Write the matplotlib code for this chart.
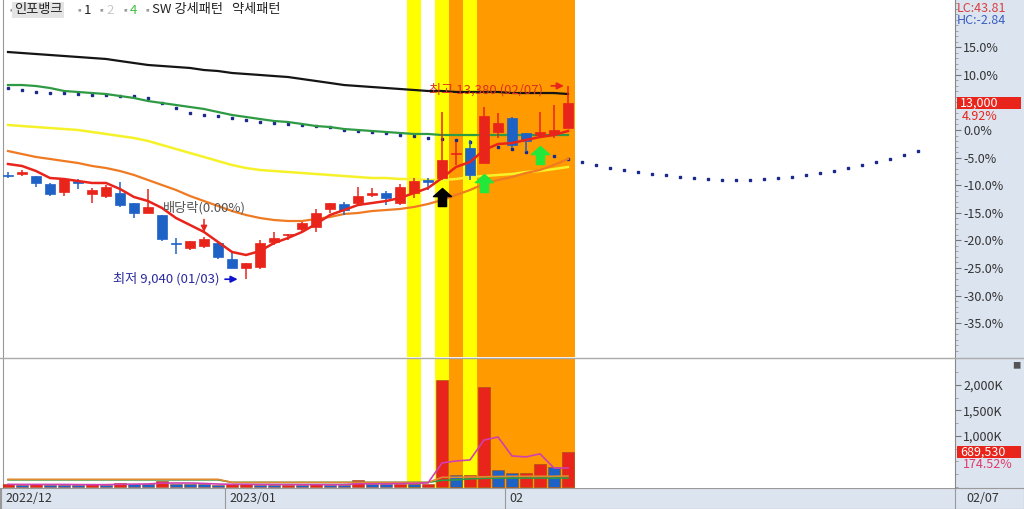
import matplotlib
matplotlib.use('Agg')
import matplotlib.pyplot as plt
from matplotlib.patches import Rectangle
from matplotlib.path import Path
import numpy as np

plt.rcParams['font.family'] = ['Noto Sans CJK KR', 'DejaVu Sans']

# ---------------- data ----------------
base_close = 12390  # previous close = 0.0% reference
dates = ['12/08', '12/09', '12/12', '12/13', '12/14', '12/15', '12/16', '12/19', '12/20', '12/21',
         '12/22', '12/23', '12/26', '12/27', '12/28', '12/29', '01/02', '01/03', '01/04', '01/05',
         '01/06', '01/09', '01/10', '01/11', '01/12', '01/13', '01/16', '01/17', '01/18', '01/19',
         '01/20', '01/25', '01/26', '01/27', '01/30', '01/31', '02/01', '02/02', '02/03', '02/06',
         '02/07']
opens = [11390, 11400, 11360, 11180, 11000, 11240, 10950, 10910, 10980, 10750,
         10530, 10480, 9860, 9740, 9790, 9850, 9490, 9290, 9320, 9880,
         10030, 10170, 10210, 10620, 10730, 10750, 10930, 10980, 10750, 10980,
         11270, 11310, 11850, 11990, 11650, 12350, 12660, 12320, 12280, 12300,
         12430]
highs = [11450, 11490, 11360, 11200, 11310, 11290, 11090, 11160, 11220, 10750,
         11070, 10480, 9970, 9900, 9990, 9850, 9650, 9400, 9920, 10100,
         10060, 10320, 10620, 10750, 10770, 11110, 11090, 11020, 11180, 11310,
         11310, 12790, 12120, 12170, 12910, 12770, 12680, 12320, 12790, 12950,
         13380]
lows = [11310, 11360, 11110, 10910, 10910, 11070, 10750, 10860, 10660, 10410,
        10530, 9900, 9610, 9700, 9740, 9490, 9290, 9040, 9270, 9810,
        9920, 10100, 10100, 10530, 10480, 10710, 10890, 10710, 10710, 10860,
        11040, 11270, 11600, 11270, 11650, 12210, 11990, 11900, 12230, 12210,
        12430]
closes = [11360, 11450, 11200, 10950, 11290, 11210, 11040, 11110, 10710, 10530,
          10660, 9940, 9840, 9900, 9940, 9540, 9290, 9400, 9850, 9970,
          10060, 10300, 10530, 10750, 10590, 10910, 10980, 10860, 11110, 11250,
          11220, 11720, 11880, 11380, 12700, 12550, 12050, 12140, 12350, 12390,
          13000]
volumes_k = [55, 48, 52, 47, 46, 44, 50, 40, 85, 60,
             58, 125, 60, 55, 52, 48, 50, 52, 45, 44,
             48, 46, 50, 45, 44, 137, 52, 50, 55, 54,
             56, 2098, 235, 240, 1961, 333, 275, 278, 451, 395,
             689.53]

# moving-average lines (percent vs previous close)
ma5_pct = [-6.16, -6.52, -7.43, -8.70, -8.88, -9.24, -9.60, -9.60, -10.69, -12.14,
           -12.87, -14.13, -15.95, -17.21, -18.48, -20.29, -22.10, -22.65, -21.93, -20.48,
           -19.57, -18.48, -17.03, -15.40, -14.50, -13.59, -13.23, -12.87, -12.32, -11.42,
           -10.51, -8.70, -6.70, -5.80, -3.62, -2.54, -2.36, -1.81, -1.27, -0.91,
           -0.18]
ma10_pct = [-3.81, -4.35, -4.89, -5.25, -5.62, -5.98, -6.52, -6.89, -7.43, -8.15,
            -9.06, -9.97, -10.87, -11.96, -12.87, -13.77, -14.68, -15.40, -15.95, -16.31,
            -16.49, -16.49, -16.13, -15.76, -15.22, -15.04, -14.68, -14.50, -14.31, -13.95,
            -13.41, -12.68, -11.78, -10.87, -9.78, -9.06, -8.52, -7.79, -7.25, -6.34,
            -5.25]
ma20_pct = [0.91, 0.72, 0.54, 0.36, 0.18, 0.0, -0.36, -0.72, -1.09, -1.45,
            -1.99, -2.72, -3.44, -4.17, -4.89, -5.62, -6.34, -6.89, -7.25, -7.43,
            -7.61, -7.79, -7.97, -8.15, -8.34, -8.52, -8.70, -8.70, -8.88, -8.88,
            -9.06, -9.06, -8.88, -8.52, -8.34, -8.15, -7.97, -7.61, -7.43, -7.07,
            -6.70]
ma60_pct = [8.15, 8.15, 7.97, 7.61, 7.07, 6.89, 6.70, 6.52, 6.16, 5.80,
            5.25, 4.89, 4.53, 4.17, 3.81, 3.26, 2.72, 2.36, 1.99, 1.63,
            1.45, 1.09, 0.72, 0.54, 0.18, 0.0, -0.18, -0.36, -0.54, -0.72,
            -0.72, -0.91, -0.91, -0.91, -0.91, -0.91, -0.91, -0.91, -0.91, -0.91,
            -0.91]
ma120_pct = [14.13, 13.95, 13.77, 13.59, 13.41, 13.23, 13.05, 12.87, 12.50, 12.14,
             11.78, 11.60, 11.42, 11.24, 10.87, 10.69, 10.33, 10.15, 9.97, 9.78,
             9.60, 9.24, 8.88, 8.52, 8.15, 7.97, 7.79, 7.61, 7.43, 7.25,
             7.07, 7.07, 6.89, 6.89, 6.89, 6.89, 6.70, 6.70, 6.70, 6.70,
             6.52]
# leading (dotted) line, extends 25 sessions past the last candle
lead_pct = [7.61, 7.25, 6.89, 6.70, 6.70, 6.52, 6.34, 6.34, 6.16, 6.16,
            5.80, 4.89, 3.99, 3.08, 2.72, 2.54, 2.17, 1.81, 1.45, 1.27,
            1.09, 0.91, 0.72, 0.54, 0.0, -0.18, -0.36, -0.54, -0.91, -1.09,
            -1.45, -1.63, -1.81, -2.17, -2.54, -3.08, -3.44, -3.99, -4.35, -4.71,
            -5.25, -5.80, -6.34, -6.89, -7.25, -7.61, -7.97, -8.15, -8.52, -8.70,
            -8.88, -9.06, -9.06, -9.06, -8.88, -8.70, -8.52, -8.15, -7.79, -7.43,
            -6.89, -6.34, -5.80, -5.25, -4.53, -3.81]
vol_ma5_k = [52, 50, 50, 50, 50, 47, 46, 45, 53, 56,
             59, 76, 78, 78, 70, 58, 53, 53, 50, 48,
             48, 47, 47, 47, 47, 63, 63, 64, 66, 70,
             80, 470, 510, 530, 920, 980, 608, 590, 650, 372,
             372]
vol_ma20_k = [150, 150, 150, 150, 150, 150, 150, 150, 150, 150,
              150, 150, 150, 150, 150, 150, 90, 90, 90, 90,
              90, 90, 90, 90, 90, 90, 90, 90, 90, 90,
              90, 190, 190, 195, 200, 205, 210, 210, 210, 210,
              215]
vol_ma60_k = [140, 140, 140, 140, 140, 140, 140, 140, 140, 140,
              140, 140, 140, 140, 140, 140, 90, 90, 90, 90,
              90, 90, 90, 90, 90, 90, 90, 90, 90, 90,
              90, 130, 140, 160, 170, 175, 175, 175, 175, 175,
              175]

yellow_days = [29, 31, 33]
orange_days = [32, 34, 35, 36, 37, 38, 39, 40]
up_arrow_black = [(31, -12.1)]
up_arrow_green = [(34, -9.6), (38, -4.5)]

pct_ticks = [15, 10, 0, -5, -10, -15, -20, -25, -30, -35]
vol_ticks_k = [2000, 1500, 1000]

# ---------------- helpers ----------------
def pct(p):
    return (np.asarray(p, dtype=float) / base_close - 1.0) * 100.0

RED = '#E8241B'
BLUE = '#1F62C6'
PANEL = '#DCE4F0'

W, H = 1024, 509
fig = plt.figure(figsize=(W / 100, H / 100), dpi=100)
fig.patch.set_facecolor('white')

def fx(px):
    return px / W

def fy(py):
    return 1 - py / H

# right axis background panel
fig.patches.append(Rectangle((fx(955), 0), fx(69), 1, transform=fig.transFigure,
                             facecolor=PANEL, edgecolor='none', zorder=-5))

ax = fig.add_axes([fx(3), fy(357), fx(952), fy(0) - fy(357)])
axv = fig.add_axes([fx(3), fy(488), fx(952), fy(359) - fy(488)])
axd = fig.add_axes([0, 0, 1, fy(488)])
axd.set_zorder(-2)

n = len(closes)
x = np.arange(n)
xmin, xmax = (3 - 8) / 14, (955 - 8) / 14

o, h, l, c = pct(opens), pct(highs), pct(lows), pct(closes)

# highlight bands
for a in (ax, axv):
    for d in yellow_days:
        a.axvspan(d - 0.5, d + 0.5, color='#FFFF00', zorder=0, lw=0)
    for d in orange_days:
        a.axvspan(d - 0.5, d + 0.5, color='#FF9A00', zorder=0, lw=0)

# lines
xl = np.arange(len(lead_pct))
ax.plot(xl, lead_pct, ls='none', marker='s', ms=1.6, color='#1A2A8C', zorder=3)
ax.plot(x, ma120_pct, color='#151515', lw=1.6, zorder=3)
ax.plot(x, ma60_pct, color='#2E9A44', lw=1.6, zorder=3)
ax.plot(x, ma20_pct, color='#F5F22A', lw=1.8, zorder=3)
ax.plot(x, ma10_pct, color='#F07A22', lw=1.6, zorder=3)
ax.plot(x, ma5_pct, color='#E8241B', lw=1.8, zorder=5)

# candles
bw = 0.72
for i in range(n):
    col = RED if c[i] >= o[i] else BLUE
    ax.vlines(i, l[i], h[i], color=col, lw=1.1, zorder=4)
    lo, hi = min(o[i], c[i]), max(o[i], c[i])
    hgt = max(hi - lo, 0.18)
    ax.add_patch(Rectangle((i - bw / 2, lo), bw, hgt, facecolor=col, edgecolor=col,
                           lw=0.5, zorder=4))

# arrow markers
arrow = Path([(0, 1), (1, 0.1), (0.45, 0.1), (0.45, -1), (-0.45, -1), (-0.45, 0.1), (-1, 0.1), (0, 1)],
             [Path.MOVETO] + [Path.LINETO] * 6 + [Path.CLOSEPOLY])
for (d, yv) in up_arrow_black:
    ax.plot(d, yv, marker=arrow, ms=13, color='black', zorder=6)
for (d, yv) in up_arrow_green:
    ax.plot(d, yv, marker=arrow, ms=13, color='#22E83A', zorder=6)

# annotations
ax.text(11.1, -14.13, '배당락(0.00%)', fontsize=9.5,
        color='#555555', va='center', ha='left', zorder=7)
ax.annotate('', xy=(14, -19.0), xytext=(14, -15.7),
            arrowprops=dict(arrowstyle='-|>', color=RED, lw=1.1, mutation_scale=9), zorder=7)
ax.text(7.5, pct(lows[17]), '최저 9,040 (01/03)', fontsize=9.5, color='#2A2AA0',
        va='center', ha='left', zorder=7)
ax.annotate('', xy=(16.6, pct(lows[17])), xytext=(15.3, pct(lows[17])),
            arrowprops=dict(arrowstyle='-|>', color='#1010D0', lw=1.2, mutation_scale=10), zorder=7)
ax.text(30.1, 7.3, '최고 13,380 (02/07)', fontsize=9.5, color='#E0301E',
        va='center', ha='left', zorder=7)
ax.annotate('', xy=(39.9, pct(highs[40])), xytext=(38.6, pct(highs[40])),
            arrowprops=dict(arrowstyle='-|>', color=RED, lw=1.2, mutation_scale=10), zorder=7)

ax.set_xlim(xmin, xmax)
ax.set_ylim((357 - 130) * -0.1812, 130 * 0.1812)
ax.set_xticks([])
ax.yaxis.tick_right()
ax.set_yticks(pct_ticks)
ax.set_yticklabels([f'{t:.1f}%' for t in pct_ticks], fontsize=9, color='#333333')
ax.set_yticks(np.arange(-40, 24, 1), minor=True)
ax.tick_params(axis='y', which='major', length=4, color='#777777', pad=2)
ax.tick_params(axis='y', which='minor', length=2, color='#999999')
for s in ['top', 'bottom']:
    ax.spines[s].set_visible(False)
ax.spines['left'].set_color('#999999')
ax.spines['right'].set_color('#888888')

# toolbar text
fig.text(fx(6), fy(10), '▪', fontsize=7, color='#9A9A9A', va='center')
fig.text(fx(14), fy(10), '인포뱅크', fontsize=9.5, color='#222222', va='center',
         bbox=dict(boxstyle='square,pad=0.15', facecolor='#E4E4E4', edgecolor='none'))
for xx in (74, 97, 121, 143):
    fig.text(fx(xx), fy(10), '▪', fontsize=7, color='#9A9A9A', va='center')
fig.text(fx(84), fy(10), '1', fontsize=9.5, color='#222222', va='center')
fig.text(fx(106), fy(10), '2', fontsize=9.5, color='#C8C8C8', va='center')
fig.text(fx(130), fy(10), '4', fontsize=9.5, color='#3CC03C', va='center')
fig.text(fx(152), fy(10), 'SW 강세패턴   약세패턴', fontsize=9.5, color='#222222', va='center')

# right-side labels
fig.text(fx(957), fy(8), 'LC:43.81', fontsize=9, color='#D84040', va='center')
fig.text(fx(957), fy(20), 'HC:-2.84', fontsize=9, color='#3A5FC0', va='center')
fig.patches.append(Rectangle((fx(957), fy(109)), fx(64), fy(97) - fy(109), transform=fig.transFigure,
                             facecolor='#E8241B', edgecolor='none', zorder=5))
fig.text(fx(960), fy(103), '13,000', fontsize=9, color='white', va='center', zorder=6)
fig.text(fx(962), fy(116), '4.92%', fontsize=9, color='#E8241B', va='center')

# volume panel
vol = np.asarray(volumes_k)
vcol = [RED] + [RED if vol[i] >= vol[i - 1] else BLUE for i in range(1, n)]
axv.bar(x, vol, width=0.8, color=vcol, edgecolor='#9A4A20', lw=0.4, zorder=3)
axv.plot(x, vol_ma60_k, color='#2E9A44', lw=1.2, zorder=4)
axv.plot(x, vol_ma20_k, color='#E08A30', lw=1.2, zorder=4)
axv.plot(x, vol_ma5_k, color='#D040B0', lw=1.2, zorder=4)
axv.set_xlim(xmin, xmax)
axv.set_ylim(-20, (487 - 359) * 500 / 25.5)
axv.set_xticks([])
axv.yaxis.tick_right()
axv.set_yticks(vol_ticks_k)
axv.set_yticklabels([f'{t:,}K' for t in vol_ticks_k], fontsize=9, color='#333333')
axv.set_yticks(np.arange(0, 2500, 250), minor=True)
axv.tick_params(axis='y', which='major', length=4, color='#777777', pad=2)
axv.tick_params(axis='y', which='minor', length=2, color='#999999')
for s in ['top', 'bottom']:
    axv.spines[s].set_visible(False)
axv.spines['left'].set_color('#999999')
axv.spines['right'].set_color('#888888')
fig.patches.append(Rectangle((fx(957), fy(458)), fx(64), fy(446) - fy(458), transform=fig.transFigure,
                             facecolor='#E8241B', edgecolor='none', zorder=5))
fig.text(fx(960), fy(452), '689,530', fontsize=9, color='white', va='center', zorder=6)
fig.text(fx(963), fy(465), '174.52%', fontsize=9, color='#E03A6A', va='center')
fig.text(fx(1012), fy(366), '■', fontsize=6, color='#555555', va='center')

# separator lines
fig.lines.append(plt.Line2D([0, 1], [fy(358), fy(358)], transform=fig.transFigure,
                            color='#AAAAAA', lw=1))

# date strip
axd.set_facecolor(PANEL)
axd.set_xlim(0, W)
axd.set_ylim(0, 1)
axd.set_xticks([])
axd.set_yticks([])
for s in axd.spines.values():
    s.set_color('#999999')
for xx in (3, 227, 507):
    axd.axvline(xx - 2, color='#999999', lw=0.8)
axd.axvline(955, color='#999999', lw=0.8)
axd.text(5, 0.5, '2022/12', fontsize=9, color='#333333', va='center')
axd.text(229, 0.5, '2023/01', fontsize=9, color='#333333', va='center')
axd.text(509, 0.5, '02', fontsize=9, color='#333333', va='center')
axd.text(966, 0.5, '02/07', fontsize=9, color='#333333', va='center')

fig.savefig('out.png', dpi=100)
